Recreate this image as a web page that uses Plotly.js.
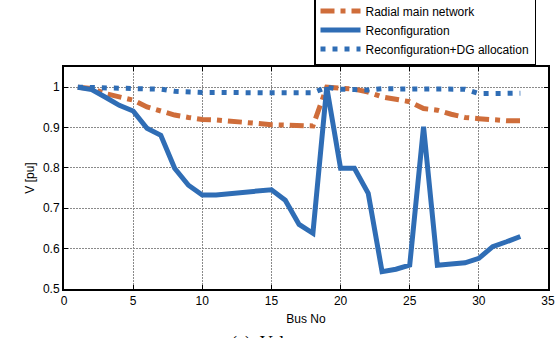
<!DOCTYPE html>
<html>
<head>
<meta charset="utf-8">
<script src="https://cdn.plot.ly/plotly-3.0.1.min.js"></script>
<style>html,body{margin:0;padding:0;background:#fff;}#chart{width:557px;height:338px;}</style>
</head>
<body>
<div id="chart"></div>
<script>
const buses = [1,2,3,4,5,6,7,8,9,10,11,12,13,14,15,16,17,18,19,20,21,22,23,24,25,26,27,28,29,30,31,32,33];
const radialV = [1.0,0.997,0.984,0.976,0.968,0.951,0.94,0.931,0.925,0.92,0.919,0.915,0.912,0.91,0.907,0.906,0.905,0.904,1.0,0.997,0.995,0.988,0.976,0.97,0.964,0.947,0.943,0.933,0.925,0.922,0.918,0.917,0.917];
const reconfV = [1.0,0.994,0.975,0.955,0.941,0.898,0.881,0.799,0.757,0.733,0.733,0.736,0.739,0.741,0.746,0.72,0.66,0.638,1.0,0.799,0.799,0.737,0.543,0.549,0.559,0.902,0.559,0.562,0.565,0.576,0.605,0.617,0.630];
const dgV = [1.0,0.999,0.998,0.998,0.997,0.997,0.995,0.99,0.987,0.987,0.987,0.986,0.986,0.986,0.986,0.986,0.986,0.986,1.0,0.995,0.994,0.993,0.996,0.996,0.996,0.996,0.996,0.996,0.995,0.984,0.984,0.985,0.985];
const seriesNames = ['Radial main network','Reconfiguration','Reconfiguration+DG allocation'];
const xTicks = [0,5,10,15,20,25,30,35];
const yTicks = [0.5,0.6,0.7,0.8,0.9,1];
const yTickText = ['0.5','0.6','0.7','0.8','0.9','1'];

const orange = '#CF6D3A';
const blue = '#2F6DB5';

const traces = [
  {x: buses, y: radialV, name: seriesNames[0], mode:'lines', line:{color:orange, width:5, dash:'14px,6px,5px,6px'}},
  {x: buses, y: reconfV, name: seriesNames[1], mode:'lines', line:{color:blue, width:5}},
  {x: buses, y: dgV, name: seriesNames[2], mode:'lines', line:{color:blue, width:5, dash:'5px,7px'}}
];

const W=557, H=338, L=64, R=9, T=67, B=49;
const pw = W-L-R, ph = H-T-B;

const axisCommon = {
  showline:true, linecolor:'#000', linewidth:2, mirror:'ticks',
  ticks:'inside', ticklen:4, tickcolor:'#000', tickwidth:1,
  showgrid:true, gridcolor:'#8a8a8a', gridwidth:1, griddash:'2px,1px',
  zeroline:false, tickfont:{family:'Liberation Sans, Arial', size:12, color:'#000'}
};

const layout = {
  width:W, height:H,
  margin:{l:L, r:R, t:T, b:B, pad:0, autoexpand:false},
  paper_bgcolor:'#fff', plot_bgcolor:'#fff',
  font:{family:'Liberation Sans, Arial', size:12, color:'#000'},
  xaxis: Object.assign({}, axisCommon, {
    range:[0,35], tickvals:xTicks, ticktext:xTicks.map(String),
    title:{text:'Bus No', font:{size:12, family:'Liberation Sans, Arial', color:'#000'}, standoff:7}
  }),
  yaxis: Object.assign({}, axisCommon, {
    range:[0.5,1.05], tickvals:yTicks, ticktext:yTickText,
    title:{text:'V [pu]', font:{size:12, family:'Liberation Sans, Arial', color:'#000'}, standoff:6}
  }),
  showlegend:true,
  legend:{
    x:(314-L)/pw, xanchor:'left', y:(H-B-65)/ph, yanchor:'bottom',
    bgcolor:'#fff', bordercolor:'#000', borderwidth:1.5,
    font:{family:'Liberation Sans, Arial', size:12, color:'#000'},
    itemwidth:40, tracegroupgap:0
  },
  annotations:[{
    xref:'paper', yref:'paper', x:(229-L)/pw, y:-(331-(H-B))/ph,
    xanchor:'left', yanchor:'top', showarrow:false,
    text:'(a)  Voltage', font:{family:'Liberation Serif, Times New Roman', size:18, color:'#000'}
  }]
};

Plotly.newPlot('chart', traces, layout, {displayModeBar:false, staticPlot:true});
</script>
</body>
</html>
